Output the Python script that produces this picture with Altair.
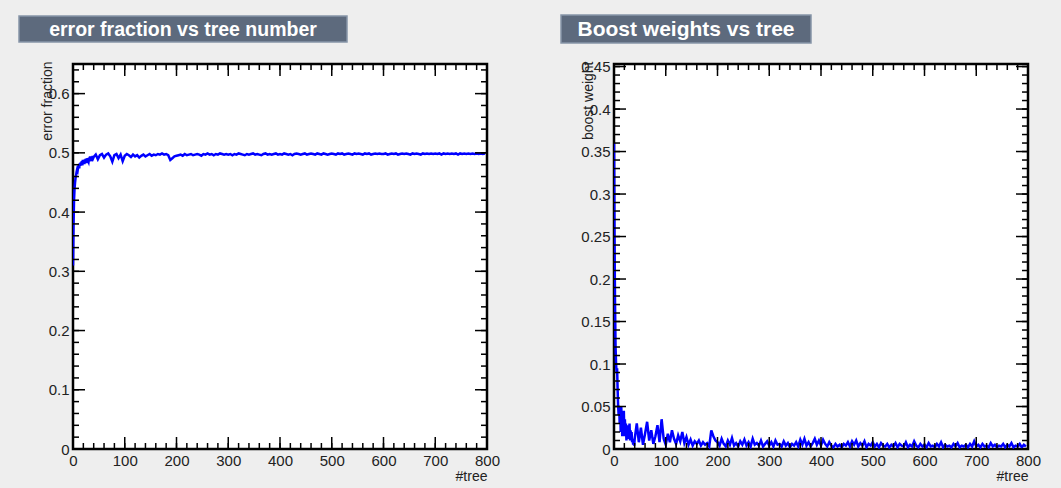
import altair as alt
import pandas as pd

# ---------------- data ----------------
trees_early = list(range(0, 40))
trees_late = list(range(40, 800, 4))
trees = trees_early + trees_late

err_early = [0.31, 0.38, 0.42, 0.44, 0.45, 0.458, 0.462, 0.468, 0.472, 0.470,
             0.476, 0.479, 0.474, 0.482, 0.478, 0.484, 0.480, 0.486, 0.479, 0.488,
             0.482, 0.487, 0.481, 0.489, 0.484, 0.490, 0.486, 0.483, 0.491, 0.487,
             0.485, 0.492, 0.488, 0.494, 0.490, 0.486, 0.493, 0.489, 0.495, 0.491]
err_late = [
    0.493, 0.497, 0.489, 0.496, 0.498, 0.492, 0.497, 0.499, 0.494, 0.485, 0.496, 0.498, 0.491, 0.497, 0.486,
    0.495, 0.498, 0.496, 0.493, 0.497, 0.494, 0.496, 0.492, 0.495, 0.497, 0.494, 0.496, 0.498, 0.495, 0.497,
    0.496, 0.498, 0.497, 0.499, 0.497, 0.498, 0.496, 0.488, 0.491, 0.494,
    0.495, 0.496, 0.497, 0.495, 0.498, 0.496, 0.497, 0.498, 0.496, 0.497, 0.498, 0.497, 0.495, 0.498, 0.497,
    0.499, 0.497, 0.498, 0.496, 0.498, 0.497, 0.499, 0.498, 0.497, 0.498,
    0.497, 0.498, 0.496, 0.498, 0.497, 0.499, 0.498, 0.497, 0.496, 0.498, 0.497, 0.498, 0.499, 0.497, 0.498,
    0.497, 0.496, 0.498, 0.499, 0.497, 0.498, 0.497, 0.498, 0.499, 0.497,
    0.498, 0.497, 0.499, 0.498, 0.497, 0.498, 0.496, 0.498, 0.499, 0.498, 0.497, 0.498, 0.499, 0.497, 0.498,
    0.499, 0.498, 0.497, 0.499, 0.498, 0.497, 0.499, 0.498, 0.497, 0.498,
    0.499, 0.498, 0.497, 0.499, 0.498, 0.499, 0.497, 0.498, 0.499, 0.498, 0.497, 0.499, 0.498, 0.499, 0.498,
    0.497, 0.499, 0.498, 0.499, 0.497, 0.498, 0.499, 0.498, 0.499, 0.498,
    0.498, 0.499, 0.497, 0.498, 0.499, 0.498, 0.499, 0.497, 0.498, 0.499, 0.498, 0.499, 0.498, 0.497, 0.499,
    0.498, 0.499, 0.498, 0.497, 0.499, 0.498, 0.499, 0.498, 0.499, 0.498,
    0.499, 0.498, 0.499, 0.497, 0.499, 0.498, 0.499, 0.498, 0.499, 0.498, 0.499, 0.497, 0.499, 0.498, 0.499,
    0.498, 0.499, 0.498, 0.499, 0.498, 0.499, 0.498, 0.499, 0.498, 0.499,
]
boost_early = [0.36, 0.25, 0.17, 0.12, 0.10, 0.09, 0.095, 0.07, 0.05, 0.04,
               0.05, 0.03, 0.045, 0.02, 0.05, 0.03, 0.015, 0.04, 0.025, 0.045,
               0.015, 0.035, 0.02, 0.03, 0.01, 0.028, 0.018, 0.025, 0.012, 0.02,
               0.03, 0.01, 0.022, 0.015, 0.02, 0.008, 0.012, 0.005, 0.01, 0.004]
boost_late = [
    0.012, 0.03, 0.008, 0.025, 0.005, 0.018, 0.032, 0.01, 0.022, 0.006, 0.015, 0.028, 0.008, 0.035, 0.012,
    0.005, 0.018, 0.008, 0.022, 0.012, 0.006, 0.016, 0.009, 0.02, 0.007, 0.014, 0.005, 0.011, 0.004, 0.009,
    0.006, 0.01, 0.004, 0.008, 0.005, 0.007, 0.003, 0.022, 0.015, 0.01,
    0.008, 0.004, 0.012, 0.006, 0.003, 0.01, 0.005, 0.013, 0.004, 0.007, 0.003, 0.009, 0.005, 0.011, 0.004,
    0.008, 0.003, 0.012, 0.005, 0.007, 0.004, 0.01, 0.003, 0.006, 0.009,
    0.004, 0.008, 0.003, 0.01, 0.005, 0.006, 0.003, 0.009, 0.004, 0.007, 0.002, 0.006, 0.004, 0.008, 0.003,
    0.011, 0.005, 0.012, 0.004, 0.008, 0.003, 0.007, 0.012, 0.005, 0.01,
    0.004, 0.011, 0.006, 0.003, 0.008, 0.004, 0.002, 0.006, 0.003, 0.005, 0.002, 0.006, 0.004, 0.008, 0.003,
    0.009, 0.005, 0.01, 0.003, 0.007, 0.004, 0.009, 0.002, 0.006, 0.004,
    0.008, 0.003, 0.006, 0.002, 0.007, 0.004, 0.003, 0.006, 0.002, 0.005, 0.003, 0.007, 0.002, 0.006, 0.004,
    0.003, 0.008, 0.002, 0.005, 0.003, 0.009, 0.004, 0.002, 0.006, 0.003,
    0.005, 0.002, 0.007, 0.003, 0.004, 0.002, 0.006, 0.003, 0.008, 0.002, 0.005, 0.003, 0.004, 0.002, 0.006,
    0.003, 0.007, 0.002, 0.004, 0.003, 0.005, 0.002, 0.006, 0.003, 0.009,
    0.003, 0.005, 0.002, 0.006, 0.003, 0.004, 0.002, 0.007, 0.003, 0.005, 0.002, 0.004, 0.003, 0.006, 0.002,
    0.005, 0.003, 0.007, 0.002, 0.004, 0.003, 0.006, 0.002, 0.005, 0.003,
]
error_fraction = err_early + err_late
boost_weight = boost_early + boost_late

x_major = [0, 100, 200, 300, 400, 500, 600, 700, 800]
x_minor = list(range(0, 801, 20))
y1_major = [0.0, 0.1, 0.2, 0.3, 0.4, 0.5, 0.6]
y1_minor = [round(i * 0.02, 2) for i in range(0, 33)]
y2_major = [0.0, 0.05, 0.1, 0.15, 0.2, 0.25, 0.3, 0.35, 0.4, 0.45]
y2_minor = [round(i * 0.01, 2) for i in range(0, 46)]

W, H = 414, 385
FONT = "Liberation Sans"
MAJ, MIN = 12, 6


def panel(yvals, ydom, ymaj, ymin, ytitle, title, box, title_size, title_cx):
    df = pd.DataFrame({"tree": trees, "v": yvals})
    xs = alt.Scale(domain=[0, 800], nice=False, zero=False)
    ys = alt.Scale(domain=ydom, nice=False, zero=False)
    xaxis = alt.Axis(values=x_major, ticks=False, domain=False, grid=False, labelFlush=False,
                     labelFont=FONT, labelFontSize=15, labelColor="#222", labelPadding=4,
                     titleFont=FONT, titleFontSize=14, titleFontWeight="normal", titleColor="#222",
                     titleX=W, titleY=27, titleAlign="right", titleBaseline="middle")
    yaxis = alt.Axis(values=ymaj, format="~g", ticks=False, domain=False, grid=False, labelFlush=False,
                     labelFont=FONT, labelFontSize=15, labelColor="#222", labelPadding=4,
                     titleFont=FONT, titleFontSize=14, titleFontWeight="normal", titleColor="#222",
                     titleAngle=270, titleX=-26, titleY=-3, titleAlign="right",
                     titleBaseline="middle")

    def X(f):
        return alt.X(f"{f}:Q", scale=xs, title="#tree", axis=xaxis)

    def Y(f):
        return alt.Y(f"{f}:Q", scale=ys, title=ytitle, axis=yaxis)

    line = alt.Chart(df).mark_line(color="#0000ff", strokeWidth=2.5, clip=True).encode(
        x=X("tree"), y=Y("v"))
    layers = [line]
    xmaj = pd.DataFrame({"tree": x_major})
    xmin = pd.DataFrame({"tree": x_minor})
    ymj = pd.DataFrame({"v": ymaj})
    ymn = pd.DataFrame({"v": ymin})
    for d, ln in ((xmaj, MAJ), (xmin, MIN)):
        layers.append(alt.Chart(d).mark_rule(color="black", strokeWidth=1.5).encode(
            x=X("tree"), y=alt.value(H), y2=alt.value(H - ln)))
        layers.append(alt.Chart(d).mark_rule(color="black", strokeWidth=1.5).encode(
            x=X("tree"), y=alt.value(0), y2=alt.value(ln)))
    for d, ln in ((ymj, MAJ), (ymn, MIN)):
        layers.append(alt.Chart(d).mark_rule(color="black", strokeWidth=1.5).encode(
            y=Y("v"), x=alt.value(0), x2=alt.value(ln)))
        layers.append(alt.Chart(d).mark_rule(color="black", strokeWidth=1.5).encode(
            y=Y("v"), x=alt.value(W), x2=alt.value(W - ln)))
    tdf = pd.DataFrame({"title": [title]})
    x0, x1, y0, y1 = box
    layers.append(alt.Chart(tdf).mark_rect(color="#5d6a7d", stroke="#8795a8", strokeWidth=1.5).encode(
        x=alt.value(x0), x2=alt.value(x1), y=alt.value(y0), y2=alt.value(y1)))
    layers.append(alt.Chart(tdf).mark_text(color="white", font=FONT, fontWeight="bold",
                                           fontSize=title_size, align="center", baseline="middle").encode(
        x=alt.value(title_cx), y=alt.value((y0 + y1) / 2 + 1), text="title:N"))
    return alt.layer(*layers).properties(width=W, height=H)


left = panel(error_fraction, [0, 0.65], y1_major, y1_minor, "error fraction",
             "error fraction vs tree number", (-54, 274, -48, -22), 19.5, 110)
right = panel(boost_weight, [0, 0.453], y2_major, y2_minor, "boost weight",
              "Boost weights vs tree", (-53, 197, -49, -21), 21, 72)

chart = alt.hconcat(left, right, spacing=127, bounds="flush").properties(
    background="#eeeeee",
    padding={"left": 17, "top": 13, "right": 19, "bottom": 7},
).configure_view(fill="white", stroke="black", strokeWidth=2.5)

chart.save("out.html", embed_options={"renderer": "svg", "actions": False})
